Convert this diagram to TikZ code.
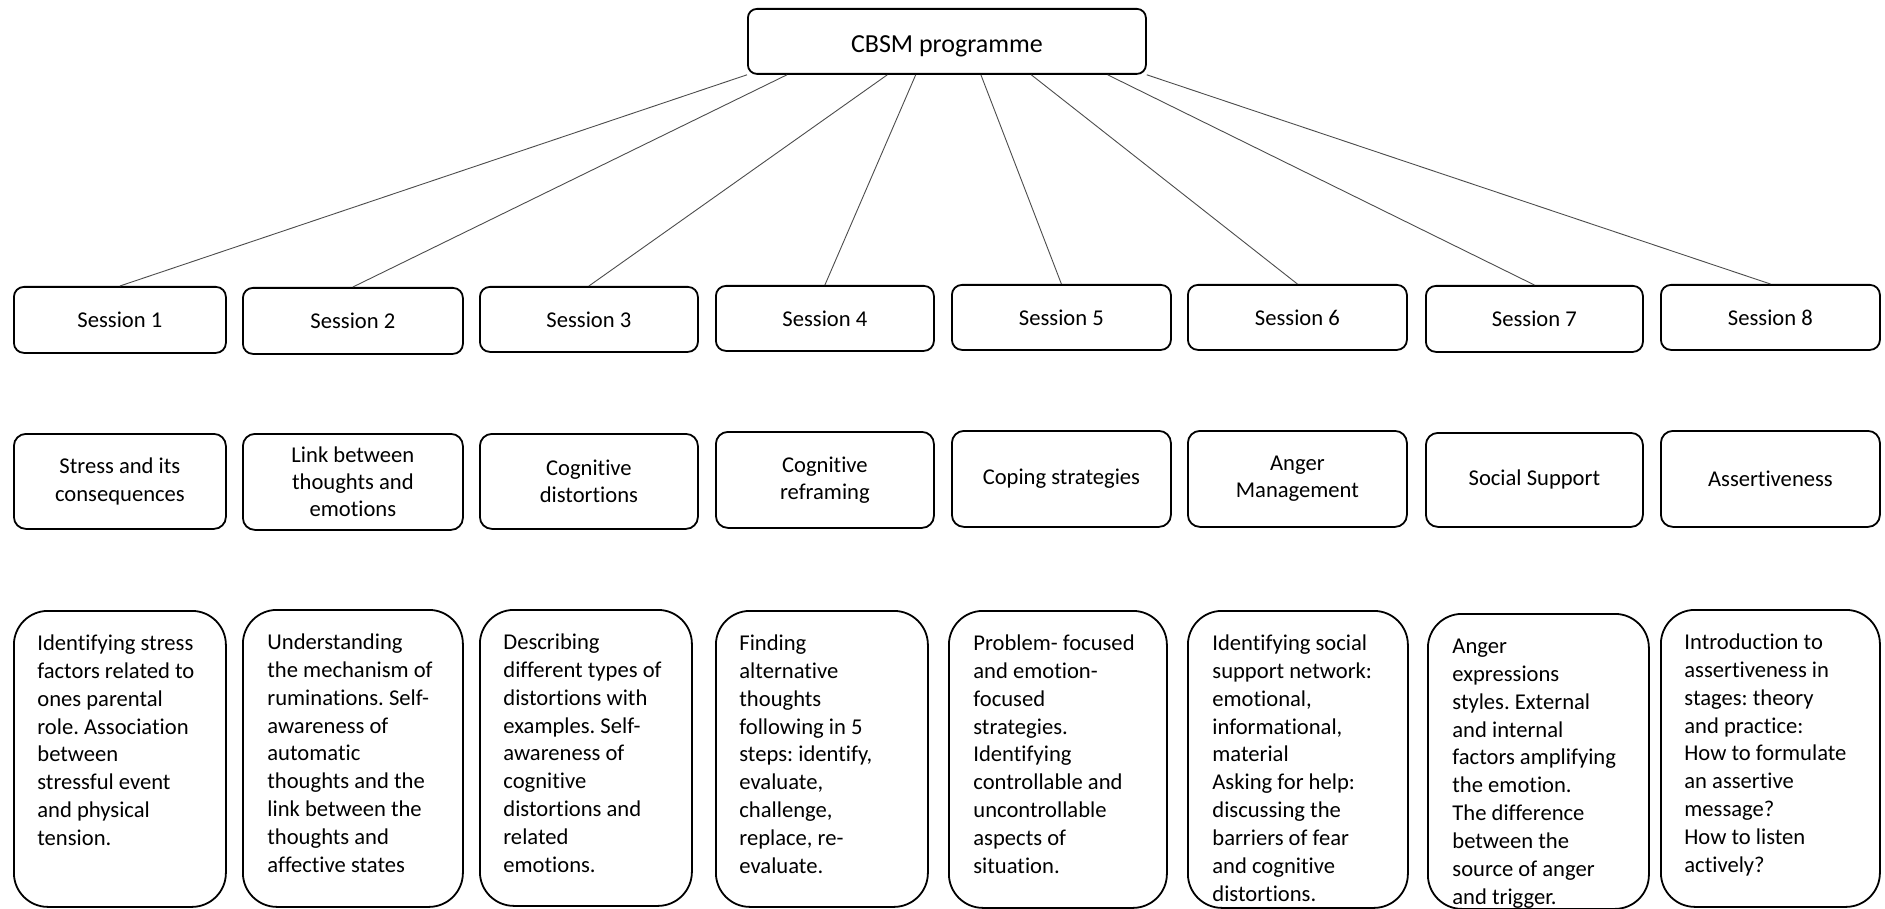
\documentclass[tikz,border=0pt]{standalone}
\usepackage{fontspec}
\setmainfont{Carlito}[Ligatures={NoCommon,NoContextual}]
\frenchspacing
\usetikzlibrary{calc}
\begin{document}
\begin{tikzpicture}[x=0.5pt,y=-0.5pt,
  % a box given by its left, top, right and bottom edges (in px units)
  boxat/.style n args={4}{at={(#1,#2)}, anchor=north west,
    minimum width={(#3-#1)*0.5pt}, minimum height={(#4-#2)*0.5pt}},
  frame/.style={draw=black, line width=0.9pt, inner sep=0pt, align=center,
    font=\fontsize{11.3}{13.6}\selectfont},
  headbox/.style={frame, rounded corners=4.5pt, font=\fontsize{13}{15}\selectfont},
  sessbox/.style={frame, rounded corners=5pt},
  topicbox/.style={frame, rounded corners=6pt},
  descbox/.style={frame, rounded corners=17pt},
  desctext/.style={anchor=north west, inner sep=0pt, align=left,
    font=\fontsize{11.3}{13.95}\selectfont},
  conn/.style={draw=black!70, line width=0.45pt}
]
\useasboundingbox (0,0) rectangle (1885,909);

% programme title
\node[headbox, boxat={747}{8}{1145}{73}, text depth=0pt] (top) {\raisebox{-2.5pt}{CBSM programme}};

% session boxes
\node[sessbox, boxat={13}{286}{225}{352}]   (s1) {Session 1};
\node[sessbox, boxat={242}{287}{462}{353}]  (s2) {Session 2};
\node[sessbox, boxat={479}{286}{697}{351}]  (s3) {Session 3};
\node[sessbox, boxat={715}{285}{933}{350}]  (s4) {Session 4};
\node[sessbox, boxat={951}{284}{1170}{349}] (s5) {Session 5};
\node[sessbox, boxat={1187}{284}{1406}{349}](s6) {Session 6};
\node[sessbox, boxat={1425}{285}{1642}{351}](s7) {Session 7};
\node[sessbox, boxat={1660}{284}{1879}{349}](s8) {Session 8};

% session topics
\node[topicbox, boxat={13}{433}{225}{528}]   (t1) {Stress and its\\consequences};
\node[topicbox, boxat={242}{433}{462}{529}]  (t2) {Link between\\thoughts and\\emotions};
\node[topicbox, boxat={479}{433}{697}{528}]  (t3) {Cognitive\\distortions};
\node[topicbox, boxat={715}{431}{933}{527}]  (t4) {Cognitive\\reframing};
\node[topicbox, boxat={951}{430}{1170}{526}] (t5) {Coping strategies};
\node[topicbox, boxat={1187}{430}{1406}{526}](t6) {Anger\\Management};
\node[topicbox, boxat={1425}{432}{1642}{526}](t7) {Social Support};
\node[topicbox, boxat={1660}{430}{1879}{526}](t8) {Assertiveness};

% session contents
\node[descbox, boxat={13}{610}{225}{906}]   (d1) {};
\node[descbox, boxat={242}{609}{462}{906}]  (d2) {};
\node[descbox, boxat={479}{609}{691}{905}]  (d3) {};
\node[descbox, boxat={715}{610}{927}{906}]  (d4) {};
\node[descbox, boxat={948}{610}{1166}{907}] (d5) {};
\node[descbox, boxat={1187}{610}{1407}{907}](d6) {};
\node[descbox, boxat={1427}{613}{1648}{908}](d7) {};
\node[descbox, boxat={1660}{609}{1879}{906}](d8) {};

\node[desctext] (d1t) at ($(d1.north west)+(24,20.4)$) {\strut Identifying stress\\factors related to\\ones parental\\role. Association\\between\\stressful event\\and physical\\tension.};
\node[desctext] (d2t) at ($(d2.north west)+(25,20.4)$) {\strut Understanding\\the mechanism of\\ruminations. Self-\\awareness of\\automatic\\thoughts and the\\link between the\\thoughts and\\affective states};
\node[desctext] (d3t) at ($(d3.north west)+(24,20.4)$) {\strut Describing\\different types of\\distortions with\\examples. Self-\\awareness of\\cognitive\\distortions and\\related\\emotions.};
\node[desctext] (d4t) at ($(d4.north west)+(24,20.4)$) {\strut Finding\\alternative\\thoughts\\following in 5\\steps: identify,\\evaluate,\\challenge,\\replace, re-\\evaluate.};
\node[desctext] (d5t) at ($(d5.north west)+(25,20.4)$) {\strut Problem- focused\\and emotion-\\focused\\strategies.\\Identifying\\controllable and\\uncontrollable\\aspects of\\situation.};
\node[desctext] (d6t) at ($(d6.north west)+(25,20.4)$) {\strut Identifying social\\support network:\\emotional,\\informational,\\material\\Asking for help:\\discussing the\\barriers of fear\\and cognitive\\distortions.};
\node[desctext] (d7t) at ($(d7.north west)+(25,20.4)$) {\strut Anger\\expressions\\styles. External\\and internal\\factors amplifying\\the emotion.\\The difference\\between the\\source of anger\\and trigger.};
\node[desctext] (d8t) at ($(d8.north west)+(24,20.4)$) {\strut Introduction to\\assertiveness in\\stages: theory\\and practice:\\How to formulate\\an assertive\\message?\\How to listen\\actively?};

% programme to sessions
\draw[conn] (top.south west) -- (s1.north);
\draw[conn] ($(top.south west)!0.10!(top.south east)$) -- (s2.north);
\draw[conn] ($(top.south west)!0.351!(top.south east)$) -- (s3.north);
\draw[conn] ($(top.south west)!0.422!(top.south east)$) -- (s4.north);
\draw[conn] ($(top.south west)!0.585!(top.south east)$) -- (s5.north);
\draw[conn] ($(top.south west)!0.711!(top.south east)$) -- (s6.north);
\draw[conn] ($(top.south west)!0.902!(top.south east)$) -- (s7.north);
\draw[conn] (top.south east) -- (s8.north);

% sessions to topics to contents
\foreach \i/\dx in {1/1, 2/1, 3/-2, 4/-1, 5/15, 6/16, 7/21.5, 8/23.5}{
  \draw[conn] ($(s\i.south)+(\dx,0)$) -- ($(s\i.south)+(\dx,0)$ |- t\i.north);
  \draw[conn] ($(t\i.south)+(\dx,0)$) -- ($(t\i.south)+(\dx,0)$ |- d\i.north);
}
\end{tikzpicture}
\end{document}
